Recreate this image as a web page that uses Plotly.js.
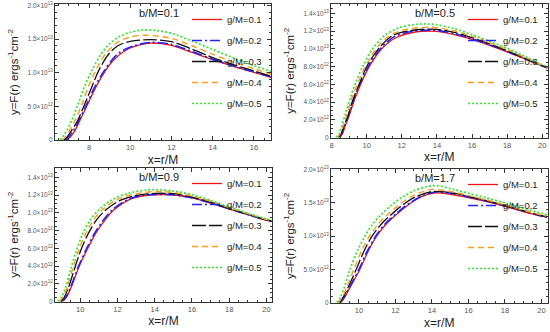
<!DOCTYPE html>
<html>
<head>
<meta charset="utf-8">
<script src="https://cdn.plot.ly/plotly-3.0.1.min.js"></script>
<style>html,body{margin:0;padding:0;background:#fff;}#chart{width:550px;height:332px;}</style>
</head>
<body>
<div id="chart"></div>
<script>
// ---------- labels ----------
const gLabels = ['g/M=0.1', 'g/M=0.2', 'g/M=0.3', 'g/M=0.4', 'g/M=0.5'];
const bLabels = ['b/M=0.1', 'b/M=0.5', 'b/M=0.9', 'b/M=1.7'];
const xTitle = 'x=r/M';
const yTitle = 'y=F(r) ergs<sup>-1</sup>cm<sup>-2</sup>';

// ---------- panel 1 : b/M=0.1 (values in units of 1e13) ----------
const p1_x_g1 = [6.92, 7.08, 7.28, 7.56, 7.95, 8.33, 8.8, 9.17, 9.76, 10.33, 11.0, 12, 13, 14, 15, 16, 16.85];
const p1_y_g1 = [0, 0.04, 0.12, 0.29, 0.54, 0.785, 1.03, 1.18, 1.33, 1.40, 1.44, 1.405, 1.30, 1.195, 1.095, 1.005, 0.93];
const p1_x_g2 = [6.85, 7.0, 7.2, 7.51, 7.90, 8.27, 8.74, 9.4, 10.2, 11.0, 12, 13, 14, 15, 16, 16.85];
const p1_y_g2 = [0, 0.04, 0.12, 0.29, 0.54, 0.785, 1.03, 1.28, 1.40, 1.45, 1.42, 1.315, 1.20, 1.10, 1.01, 0.935];
const p1_x_g3 = [6.78, 6.95, 7.15, 7.45, 7.80, 8.13, 8.47, 8.94, 9.4, 10.0, 11.0, 12, 13, 14, 15, 16, 16.85];
const p1_y_g3 = [0, 0.05, 0.14, 0.29, 0.54, 0.785, 1.03, 1.27, 1.40, 1.465, 1.49, 1.46, 1.35, 1.225, 1.12, 1.025, 0.945];
const p1_x_g4 = [6.7, 6.85, 7.05, 7.32, 7.67, 7.96, 8.32, 8.8, 9.43, 10.0, 10.8, 12, 13, 14, 15, 16, 16.85];
const p1_y_g4 = [0, 0.05, 0.14, 0.29, 0.54, 0.785, 1.03, 1.28, 1.46, 1.53, 1.555, 1.51, 1.40, 1.275, 1.16, 1.06, 0.975];
const p1_x_g5 = [6.6, 6.72, 6.9, 7.16, 7.48, 7.77, 8.13, 8.62, 9.0, 9.5, 10.0, 10.6, 11.3, 12, 13, 14, 15, 16, 16.85];
const p1_y_g5 = [0, 0.05, 0.13, 0.29, 0.54, 0.785, 1.03, 1.29, 1.43, 1.54, 1.60, 1.635, 1.625, 1.585, 1.47, 1.345, 1.22, 1.105, 1.015];

// ---------- panel 2 : b/M=0.5 (units of 1e12) ----------
const p2_x_g1 = [8.47, 8.62, 8.76, 9.0, 9.33, 9.71, 10.19, 10.86, 11.71, 12.86, 13.6, 14, 15, 16, 17, 18, 19, 20, 20.3];
const p2_y_g1 = [0, 0.4, 1.2, 2.46, 4.36, 6.24, 8.14, 10.0, 11.3, 11.92, 12.0, 11.97, 11.6, 11.05, 10.38, 9.65, 8.87, 8.06, 7.83];
const p2_x_g2 = [8.43, 8.58, 8.74, 8.97, 9.28, 9.66, 10.13, 10.78, 11.6, 12.7, 13.6, 14, 15, 16, 17, 18, 19, 20, 20.3];
const p2_y_g2 = [0, 0.4, 1.33, 2.46, 4.36, 6.24, 8.14, 10.0, 11.4, 12.0, 12.1, 12.07, 11.72, 11.12, 10.45, 9.7, 8.9, 8.06, 7.85];
const p2_x_g3 = [8.38, 8.55, 8.72, 8.93, 9.24, 9.62, 10.04, 10.67, 11.52, 12.5, 13.5, 14, 15, 16, 17, 18, 19, 20, 20.3];
const p2_y_g3 = [0, 0.45, 1.33, 2.46, 4.36, 6.24, 8.14, 10.0, 11.54, 12.05, 12.22, 12.2, 11.85, 11.25, 10.55, 9.78, 8.95, 8.1, 7.88];
const p2_x_g4 = [8.32, 8.5, 8.66, 8.86, 9.14, 9.52, 9.96, 10.53, 11.33, 12.3, 13.4, 14, 15, 16, 17, 18, 19, 20, 20.3];
const p2_y_g4 = [0, 0.45, 1.33, 2.46, 4.36, 6.24, 8.14, 10.0, 11.5, 12.2, 12.42, 12.38, 12.0, 11.4, 10.7, 9.9, 9.05, 8.15, 7.9];
const p2_x_g5 = [8.25, 8.42, 8.58, 8.76, 9.05, 9.39, 9.81, 10.34, 11.05, 11.9, 12.6, 13.3, 14, 15, 16, 17, 18, 19, 20, 20.3];
const p2_y_g5 = [0, 0.4, 1.3, 2.46, 4.36, 6.24, 8.14, 10.0, 11.54, 12.4, 12.7, 12.8, 12.72, 12.25, 11.6, 10.85, 10.05, 9.15, 8.2, 7.95];

// ---------- panel 3 : b/M=0.9 (units of 1e12) ----------
const p3_x_g1 = [9.05, 9.27, 9.52, 9.95, 10.4, 10.85, 11.3, 11.83, 12.64, 13.5, 14.5, 15.2, 16, 17, 18, 19, 20, 20.3];
const p3_y_g1 = [0, 0.5, 1.6, 3.98, 5.95, 7.73, 9.1, 10.36, 11.49, 11.95, 12.05, 11.98, 11.67, 11.1, 10.43, 9.78, 9.15, 9.05];
const p3_x_g2 = [9.02, 9.24, 9.49, 9.9, 10.33, 10.78, 11.22, 11.75, 12.55, 13.4, 14.4, 15, 16, 17, 18, 19, 20, 20.3];
const p3_y_g2 = [0, 0.5, 1.6, 3.9, 5.9, 7.7, 9.1, 10.36, 11.49, 11.97, 12.08, 12.03, 11.7, 11.13, 10.45, 9.8, 9.17, 9.07];
const p3_x_g3 = [8.95, 9.15, 9.38, 9.7, 10.03, 10.42, 10.88, 11.4, 12.15, 13.0, 14.0, 14.5, 15, 16, 17, 18, 19, 20, 20.3];
const p3_y_g3 = [0, 0.5, 1.6, 3.7, 5.75, 7.6, 9.2, 10.36, 11.4, 11.95, 12.18, 12.2, 12.15, 11.78, 11.2, 10.5, 9.85, 9.2, 9.1];
const p3_x_g4 = [8.88, 9.08, 9.3, 9.6, 9.92, 10.28, 10.72, 11.2, 11.95, 12.8, 13.8, 14.3, 15, 16, 17, 18, 19, 20, 20.3];
const p3_y_g4 = [0, 0.5, 1.6, 3.7, 5.75, 7.6, 9.2, 10.36, 11.45, 12.05, 12.38, 12.4, 12.3, 11.9, 11.3, 10.58, 9.9, 9.25, 9.12];
const p3_x_g5 = [8.8, 9.0, 9.22, 9.5, 9.8, 10.13, 10.55, 11.02, 11.74, 12.6, 13.6, 14.1, 15, 16, 17, 18, 19, 20, 20.3];
const p3_y_g5 = [0, 0.5, 1.6, 3.7, 5.75, 7.6, 9.2, 10.36, 11.49, 12.2, 12.58, 12.6, 12.45, 12.05, 11.4, 10.66, 9.95, 9.3, 9.15];

// ---------- panel 4 : b/M=1.7 (units of 1e13) ----------
const p4_x_g1 = [9.01, 9.22, 9.55, 10.05, 10.5, 10.97, 11.48, 12.02, 12.7, 13.4, 14.2, 15, 16, 17, 18, 19, 20, 20.3];
const p4_y_g1 = [0, 0.08, 0.25, 0.5, 0.77, 1.0, 1.18, 1.32, 1.47, 1.59, 1.65, 1.63, 1.58, 1.52, 1.45, 1.37, 1.30, 1.28];
const p4_x_g2 = [8.97, 9.19, 9.52, 10.0, 10.45, 10.92, 11.42, 11.96, 12.63, 13.33, 14.1, 14.8, 15.5, 16, 17, 18, 19, 20, 20.3];
const p4_y_g2 = [0, 0.08, 0.25, 0.5, 0.77, 1.0, 1.18, 1.32, 1.47, 1.59, 1.66, 1.655, 1.625, 1.59, 1.53, 1.455, 1.38, 1.305, 1.285];
const p4_x_g3 = [8.9, 9.13, 9.42, 9.85, 10.27, 10.72, 11.22, 11.75, 12.4, 13.1, 14.0, 14.7, 15.4, 16, 17, 18, 19, 20, 20.3];
const p4_y_g3 = [0, 0.08, 0.24, 0.5, 0.77, 1.0, 1.18, 1.32, 1.47, 1.59, 1.67, 1.665, 1.635, 1.595, 1.535, 1.46, 1.385, 1.31, 1.29];
const p4_x_g4 = [8.85, 9.08, 9.35, 9.72, 10.13, 10.58, 11.05, 11.55, 12.2, 12.9, 13.9, 14.6, 15.3, 16, 17, 18, 19, 20, 20.3];
const p4_y_g4 = [0, 0.08, 0.24, 0.5, 0.77, 1.0, 1.18, 1.32, 1.47, 1.6, 1.70, 1.69, 1.655, 1.61, 1.545, 1.47, 1.39, 1.32, 1.30];
const p4_x_g5 = [8.78, 8.98, 9.2, 9.51, 9.9, 10.33, 10.75, 11.24, 11.8, 12.34, 13.0, 13.8, 14.3, 15.2, 16, 17, 18, 19, 20, 20.3];
const p4_y_g5 = [0, 0.08, 0.23, 0.5, 0.77, 1.0, 1.18, 1.33, 1.47, 1.58, 1.68, 1.75, 1.76, 1.70, 1.645, 1.575, 1.50, 1.42, 1.345, 1.32];

// ---------- axis ticks ----------
const p1_yticks = [0, 5e12, 1e13, 1.5e13, 2e13];
const p1_ylabels = ['0', '5.0×10<sup>12</sup>', '1.0×10<sup>13</sup>', '1.5×10<sup>13</sup>', '2.0×10<sup>13</sup>'];
const p2_yticks = [0, 2e12, 4e12, 6e12, 8e12, 1e13, 1.2e13, 1.4e13];
const p2_ylabels = ['0', '2.0×10<sup>12</sup>', '4.0×10<sup>12</sup>', '6.0×10<sup>12</sup>', '8.0×10<sup>12</sup>', '1.0×10<sup>13</sup>', '1.2×10<sup>13</sup>', '1.4×10<sup>13</sup>'];

// ---------- styles ----------
const colors = ['#f01414', '#2222ff', '#111111', '#ff9a1a', '#2ee82e'];
const dashes = ['solid', '10px,3px,2px,3px', '14px,3px', '6px,4px', '2px,2px'];
const widths = [1.3, 1.6, 1.3, 1.4, 1.7];

const panels = [
  {xs: [p1_x_g1, p1_x_g2, p1_x_g3, p1_x_g4, p1_x_g5], ys: [p1_y_g1, p1_y_g2, p1_y_g3, p1_y_g4, p1_y_g5], unit: 1e13,
   xr: [6.35, 16.83], yr: [0, 2.02e13], tv: p1_yticks, tt: p1_ylabels, ymin: 1e12,
   dx: [55, 271], dy: [4, 140]},
  {xs: [p2_x_g1, p2_x_g2, p2_x_g3, p2_x_g4, p2_x_g5], ys: [p2_y_g1, p2_y_g2, p2_y_g3, p2_y_g4, p2_y_g5], unit: 1e12,
   xr: [7.97, 20.3], yr: [0, 1.505e13], tv: p2_yticks, tt: p2_ylabels, ymin: 5e11,
   dx: [331, 547.5], dy: [4, 137.5]},
  {xs: [p3_x_g1, p3_x_g2, p3_x_g3, p3_x_g4, p3_x_g5], ys: [p3_y_g1, p3_y_g2, p3_y_g3, p3_y_g4, p3_y_g5], unit: 1e12,
   xr: [8.65, 20.3], yr: [0, 1.505e13], tv: p2_yticks, tt: p2_ylabels, ymin: 5e11,
   dx: [55, 272], dy: [168, 301.5]},
  {xs: [p4_x_g1, p4_x_g2, p4_x_g3, p4_x_g4, p4_x_g5], ys: [p4_y_g1, p4_y_g2, p4_y_g3, p4_y_g4, p4_y_g5], unit: 1e13,
   xr: [8.47, 20.33], yr: [0, 2.01e13], tv: p1_yticks, tt: p1_ylabels, ymin: 1e12,
   dx: [331, 547.5], dy: [169, 302.7]}
];

const W = 550, H = 332;
const FONT = 'Liberation Sans, Arial, sans-serif';
const data = [];
const layout = {
  width: W, height: H, margin: {l: 0, r: 0, t: 0, b: 0},
  paper_bgcolor: '#fff', plot_bgcolor: '#fff', showlegend: true,
  font: {family: FONT, color: '#222'}, annotations: []
};

panels.forEach((p, i) => {
  const n = i === 0 ? '' : String(i + 1);
  p.xs.forEach((xv, k) => {
    data.push({
      type: 'scatter', mode: 'lines', x: xv, y: p.ys[k].map(v => v * p.unit),
      name: gLabels[k], xaxis: 'x' + n, yaxis: 'y' + n,
      legend: i === 0 ? 'legend' : 'legend' + (i + 1), legendgroup: 'p' + i + 'g' + k,
      line: {color: colors[k], width: widths[k], dash: dashes[k], shape: 'spline', smoothing: 0.9},
      hoverinfo: 'skip'
    });
  });
  const xd = [p.dx[0] / W, p.dx[1] / W];
  const yd = [1 - p.dy[1] / H, 1 - p.dy[0] / H];
  layout['xaxis' + n] = {
    domain: xd, range: p.xr, anchor: 'y' + n, showgrid: false, zeroline: false,
    showline: true, linecolor: '#333', linewidth: 1, mirror: 'allticks',
    ticks: 'inside', ticklen: 4, tickcolor: '#333', tickmode: 'linear', tick0: 0, dtick: 2,
    tickfont: {size: 7.5, color: '#555', family: FONT},
    minor: {ticks: 'inside', ticklen: 2, tickcolor: '#333', tickmode: 'linear', tick0: 0, dtick: 0.5, showgrid: false},
    title: {text: xTitle, font: {size: 12, color: '#222', family: FONT}, standoff: 4}
  };
  layout['yaxis' + n] = {
    domain: yd, range: p.yr, anchor: 'x' + n, showgrid: false, zeroline: false,
    showline: true, linecolor: '#333', linewidth: 1, mirror: 'allticks',
    ticks: 'inside', ticklen: 4, tickcolor: '#333', tickmode: 'array', tickvals: p.tv, ticktext: p.tt,
    tickfont: {size: 6.5, color: '#555', family: FONT},
    minor: {ticks: 'inside', ticklen: 2, tickcolor: '#333', tickmode: 'linear', tick0: 0, dtick: p.ymin, showgrid: false},
    title: {text: yTitle, font: {size: 11.5, color: '#222', family: FONT}, standoff: 6}
  };
  layout[i === 0 ? 'legend' : 'legend' + (i + 1)] = {
    x: (p.dx[0] + 132) / W, y: 1 - (p.dy[0] + 1) / H, xanchor: 'left', yanchor: 'top',
    bgcolor: 'rgba(0,0,0,0)', borderwidth: 0, tracegroupgap: 2, traceorder: 'grouped',
    font: {size: 9.5, color: '#222', family: FONT}
  };
  layout.annotations.push({
    xref: 'paper', yref: 'paper', x: (p.dx[0] + 104) / W, y: 1 - (p.dy[0] + 9) / H,
    xanchor: 'center', yanchor: 'middle', showarrow: false, text: bLabels[i],
    font: {size: 11, color: '#222', family: FONT}
  });
});

Plotly.newPlot('chart', data, layout, {displayModeBar: false, staticPlot: true});
</script>
</body>
</html>
